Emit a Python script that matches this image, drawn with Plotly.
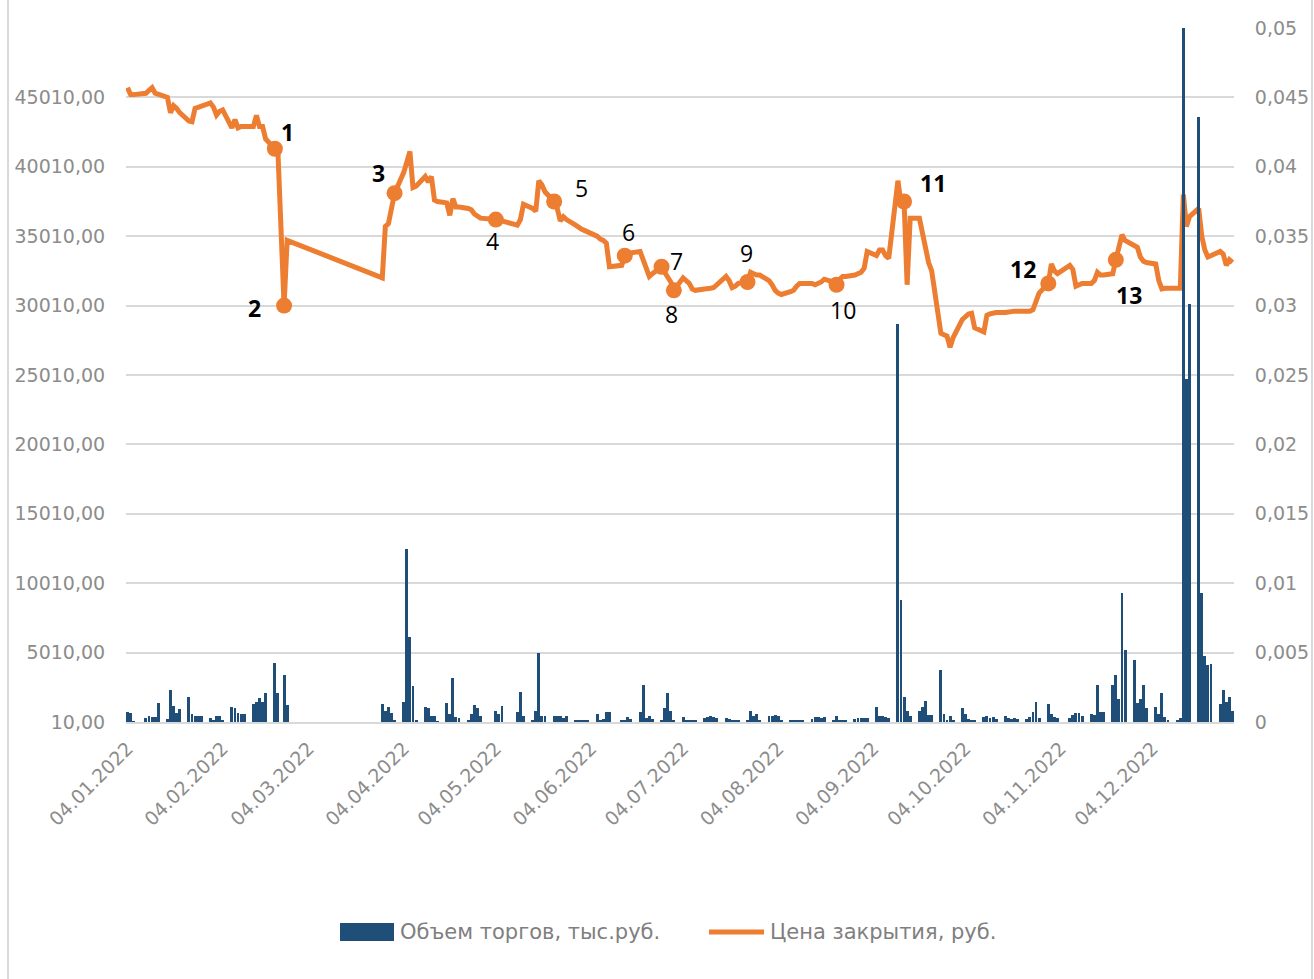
import pandas as pd
import plotly.graph_objects as go

# Exchange calendar: weekdays of 2022 without holidays and the trading halt
HOLIDAYS = ["2022-01-07", "2022-02-23", "2022-05-02", "2022-05-03",
            "2022-05-09", "2022-05-10", "2022-06-13", "2022-11-04"]
HALT_START, HALT_END = "2022-02-28", "2022-03-25"

# Closing price, rub. (one value per trading day, month by month)
price_jan = [0.0457, 0.0452, 0.0452, 0.0453, 0.0455, 0.0457, 0.0453, 0.0452, 0.0450, 0.0439,
             0.0444, 0.0442, 0.0439, 0.0433, 0.04325, 0.0442, 0.0443, 0.0444, 0.0446]
price_feb = [0.0443, 0.04373, 0.0440, 0.0441, 0.0428, 0.0434, 0.0428, 0.0429, 0.0429, 0.0429,
             0.0437, 0.0429, 0.0429, 0.0420, 0.0413, 0.0411, 0.0300, 0.0347]
price_mar = [0.0320, 0.0357, 0.0359, 0.0372]
price_apr = [0.0381, 0.0396, 0.0405, 0.0411, 0.0385, 0.0386, 0.0393, 0.0389, 0.0393, 0.0376,
             0.0375, 0.0374, 0.0365, 0.0377, 0.0371, 0.0371, 0.0370, 0.0369, 0.0366, 0.0364,
             0.0363]
price_may = [0.0362, 0.0361, 0.0361, 0.0358, 0.0362, 0.0373, 0.0370, 0.0368, 0.0390, 0.0387,
             0.0382, 0.0375, 0.0370, 0.0361, 0.0364, 0.0362, 0.0358, 0.0356]
price_jun = [0.0355, 0.0354, 0.0353, 0.0350, 0.0348, 0.0347, 0.0345, 0.0328, 0.0329, 0.0336,
             0.0337, 0.0338, 0.0339, 0.0333, 0.0325, 0.0321, 0.0323, 0.0328, 0.0324, 0.0321,
             0.0317]
price_jul = [0.0311, 0.0320, 0.0318, 0.0316, 0.0312, 0.0311, 0.0312, 0.0312, 0.03125, 0.0313,
             0.0315, 0.0321, 0.0318, 0.0313, 0.0314, 0.0316, 0.0317, 0.0324, 0.0323, 0.0322,
             0.0322]
price_aug = [0.0318, 0.0315, 0.0311, 0.0309, 0.0308, 0.0310, 0.0311, 0.0314, 0.0316, 0.0316,
             0.0316, 0.0315, 0.0316, 0.0317, 0.0319, 0.0317, 0.0315, 0.0319, 0.0321, 0.0321,
             0.0322, 0.0323, 0.0324]
price_sep = [0.0327, 0.0339, 0.0336, 0.0340, 0.0340, 0.0336, 0.0334, 0.0390, 0.0374, 0.0375,
             0.0315, 0.0363, 0.0363, 0.0351, 0.0340, 0.0331, 0.0325, 0.0280, 0.0279, 0.0278,
             0.0270, 0.0277]
price_oct = [0.0290, 0.0292, 0.0294, 0.02945, 0.0284, 0.0281, 0.0293, 0.0294, 0.02945, 0.0295,
             0.0295, 0.02955, 0.0296, 0.0296, 0.0296, 0.0296, 0.0296, 0.0297, 0.0304, 0.0309,
             0.0316]
price_nov = [0.0330, 0.0325, 0.0323, 0.0329, 0.0326, 0.0314, 0.0315, 0.0316, 0.0316, 0.0318,
             0.0324, 0.0322, 0.0322, 0.0323, 0.0333, 0.0343, 0.0351, 0.0347, 0.0343, 0.0342,
             0.0335]
price_dec = [0.0332, 0.0331, 0.0330, 0.0318, 0.0312, 0.03125, 0.03125, 0.03125, 0.03125, 0.0380,
             0.0357, 0.0364, 0.0370, 0.0350, 0.0340, 0.0335, 0.0336, 0.0339, 0.0337, 0.0329,
             0.0333, 0.0331]

# Trading volume, thousand rub.
vol_jan = [750, 650, 60, 290, 430, 360, 360, 1370, 240, 2330, 1130, 650, 940, 1800, 600, 430,
           430, 430, 290]
vol_feb = [170, 400, 430, 120, 1080, 1010, 650, 580, 550, 1270, 1440, 1750, 1450, 2080, 4220,
           2080, 3360, 1250]
vol_mar = [1270, 790, 1080, 650]
vol_apr = [150, 1440, 12470, 6100, 2600, 150, 1080, 1000, 420, 400, 60, 1370, 600, 3160, 360,
           300, 170, 600, 1250, 1000, 400]
vol_may = [790, 600, 1130, 730, 2190, 430, 100, 770, 5000, 430, 430, 400, 450, 430, 300, 400,
           150, 150]
vol_jun = [150, 100, 150, 600, 150, 200, 700, 700, 100, 150, 360, 200, 730, 2700, 300, 400, 200,
           100, 1000, 2100, 790]
vol_jul = [100, 360, 150, 150, 100, 100, 300, 360, 400, 360, 300, 290, 200, 150, 150, 100, 100,
           800, 400, 600, 150]
vol_aug = [400, 450, 500, 400, 150, 100, 150, 150, 120, 150, 200, 360, 360, 300, 360, 150, 400,
           150, 100, 100, 250, 290, 290]
vol_sep = [290, 290, 1080, 430, 400, 350, 300, 28700, 8800, 1800, 800, 400, 800, 1080, 1500, 480,
           480, 3750, 600, 100, 430, 150]
vol_oct = [1000, 600, 240, 150, 100, 360, 400, 300, 360, 250, 430, 300, 250, 300, 200, 200, 360,
           730, 1440, 300, 1320]
vol_nov = [600, 360, 300, 290, 480, 680, 650, 430, 600, 500, 2640, 730, 730, 2660, 3360, 1670,
           9300, 5200, 4460, 1370, 1670]
vol_dec = [2640, 1000, 1080, 600, 2120, 360, 100, 150, 300, 62000, 24700, 30100, 43600, 9300,
           4750, 4100, 4150, 1300, 2330, 1440, 1800, 790]

# Numbered events on the price line
event_dates = ["2022-02-21", "2022-02-24", "2022-04-01", "2022-05-04", "2022-05-23",
               "2022-06-15", "2022-06-27", "2022-07-01", "2022-07-25", "2022-08-23",
               "2022-09-14", "2022-10-31", "2022-11-22"]
event_labels = [str(i) for i in range(1, 14)]
label_shift = [(13, 17), (-30, -2), (-16, 20), (-3, -21), (27, 14), (4, 24), (15, 6),
               (-2, -24), (-1, 29), (6, -25), (29, 19), (-25, 14), (13, -35)]
label_bold = [True, True, True, False, False, False, False, False, False, False, True, True, True]

# Axis ticks
left_ticks = list(range(10, 50011, 5000))
left_text = [f"{v},00" for v in left_ticks[:-1]] + [""]
right_ticks = [i * 0.005 for i in range(11)]
right_text = ["0", "0,005", "0,01", "0,015", "0,02", "0,025", "0,03", "0,035", "0,04",
              "0,045", "0,05"]
month_ticks = [f"2022-{m:02d}-04" for m in range(1, 13)]
month_text = [f"04.{m:02d}.2022" for m in range(1, 13)]

days = pd.bdate_range("2022-01-04", "2022-12-30")
days = days[~days.isin(pd.to_datetime(HOLIDAYS))]
days = days[(days < HALT_START) | (days > HALT_END)]

price = (price_jan + price_feb + price_mar + price_apr + price_may + price_jun +
         price_jul + price_aug + price_sep + price_oct + price_nov + price_dec)
volume = (vol_jan + vol_feb + vol_mar + vol_apr + vol_may + vol_jun +
          vol_jul + vol_aug + vol_sep + vol_oct + vol_nov + vol_dec)
assert len(days) == len(price) == len(volume), (len(days), len(price), len(volume))

price_s = pd.Series(price, index=days)
ev_x = pd.to_datetime(event_dates)
ev_y = [price_s[d] for d in ev_x]

BLUE = "#1F4E79"
ORANGE = "#ED7D31"
GRID = "#D9D9D9"
TICK = "#8C8C8C"
FONT = "DejaVu Sans"

fig = go.Figure()
fig.add_trace(go.Scatter(
    x=days, y=price, yaxis="y", mode="lines",
    line=dict(color=ORANGE, width=5), name="Цена закрытия, руб.",
))
fig.add_trace(go.Scatter(
    x=ev_x, y=ev_y, yaxis="y", mode="markers",
    marker=dict(color=ORANGE, size=16), showlegend=False,
))
fig.add_trace(go.Bar(
    x=days, y=volume, yaxis="y2", base=10,
    marker=dict(color=BLUE, line=dict(width=0)),
    width=86400000 * 0.95, name="Объем торгов, тыс.руб.",
))

annotations = []
for d, v, t, (dx, dy), b in zip(ev_x, ev_y, event_labels, label_shift, label_bold):
    annotations.append(dict(
        x=d, y=v, xref="x", yref="y", text=f"<b>{t}</b>" if b else t,
        showarrow=False, xshift=dx, yshift=dy,
        font=dict(family="Open Sans", size=23, color="#000000"),
    ))

def px_x(p):
    return (p - 126) / 1108

def px_y(p):
    return (722 - p) / 694

# Legend drawn below the plot
annotations += [
    dict(x=px_x(398), y=px_y(932), xref="paper", yref="paper", xanchor="left",
         yanchor="middle", showarrow=False, text="Объем торгов, тыс.руб.",
         font=dict(family=FONT, size=21, color="#7F7F7F")),
    dict(x=px_x(768), y=px_y(932), xref="paper", yref="paper", xanchor="left",
         yanchor="middle", showarrow=False, text="Цена закрытия, руб.",
         font=dict(family=FONT, size=21, color="#7F7F7F")),
]
shapes = [
    dict(type="rect", xref="paper", yref="paper", x0=px_x(340), x1=px_x(394),
         y0=px_y(941), y1=px_y(923), fillcolor=BLUE, line=dict(width=0)),
    dict(type="line", xref="paper", yref="paper", x0=px_x(709), x1=px_x(764),
         y0=px_y(932), y1=px_y(932), line=dict(color=ORANGE, width=5)),
    dict(type="line", xref="paper", yref="paper", x0=px_x(8), x1=px_x(8),
         y0=px_y(0), y1=px_y(979), line=dict(color=GRID, width=2)),
    dict(type="line", xref="paper", yref="paper", x0=px_x(1312), x1=px_x(1312),
         y0=px_y(0), y1=px_y(979), line=dict(color=GRID, width=2)),
]

fig.update_layout(
    width=1314, height=979,
    margin=dict(l=126, r=80, t=28, b=257, autoexpand=False),
    paper_bgcolor="white", plot_bgcolor="white",
    showlegend=False, bargap=0,
    font=dict(family=FONT, size=19, color=TICK),
    xaxis=dict(
        type="date", range=["2022-01-03 12:00", "2022-12-30 12:00"], automargin=False,
        tickmode="array", tickvals=month_ticks, ticktext=month_text, tickangle=-45,
        ticks="outside", ticklen=6, tickcolor="rgba(0,0,0,0)",
        showgrid=False, showline=True, linecolor=GRID, linewidth=2,
        tickfont=dict(family=FONT, size=19, color=TICK),
    ),
    yaxis=dict(
        side="right", range=[0, 0.05], tickmode="array", automargin=False,
        tickvals=right_ticks, ticktext=right_text,
        showgrid=False, zeroline=False,
        ticks="outside", ticklen=16, tickcolor="rgba(0,0,0,0)",
        tickfont=dict(family=FONT, size=19, color=TICK),
    ),
    yaxis2=dict(
        side="left", overlaying="y", range=[10, 50010], tickmode="array", automargin=False,
        tickvals=left_ticks, ticktext=left_text,
        showgrid=True, gridcolor=GRID, gridwidth=2, zeroline=False,
        ticks="outside", ticklen=16, tickcolor="rgba(0,0,0,0)",
        tickfont=dict(family=FONT, size=19, color=TICK),
    ),
    annotations=annotations, shapes=shapes,
)

fig.write_html("out.html")
